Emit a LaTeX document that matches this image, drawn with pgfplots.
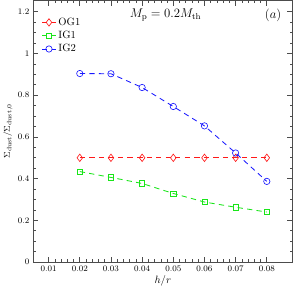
\documentclass[border=0pt]{standalone}
\usepackage{pgfplots}
\pgfplotsset{compat=1.18}
\definecolor{myred}{rgb}{1,0.1,0.1}
\definecolor{mygreen}{rgb}{0.1,0.9,0.1}
\definecolor{myblue}{rgb}{0.1,0.1,1}
\begin{document}
\begin{tikzpicture}
\begin{axis}[
  scale only axis, width=245pt, height=247pt,
  xmin=0.005, xmax=0.0883, ymin=0, ymax=1.255,
  scaled x ticks=false, scaled y ticks=false,
  xtick={0.01,0.02,0.03,0.04,0.05,0.06,0.07,0.08},
  xticklabels={0.01,0.02,0.03,0.04,0.05,0.06,0.07,0.08},
  ytick={0,0.2,0.4,0.6,0.8,1,1.2},
  yticklabels={0,0.2,0.4,0.6,0.8,1,1.2},
  minor x tick num=4, minor y tick num=3,
  tick align=inside, tick pos=both,
  major tick length=5pt, minor tick length=3pt,
  every tick/.style={black!70, semithick},
  axis line style={black!70, semithick},
  tick label style={font=\footnotesize},
  xlabel={$h/r$}, ylabel={$\Sigma_{\rm dust}/\Sigma_{\rm dust,0}$},
  xlabel style={font=\normalsize, yshift=3pt},
  ylabel style={font=\footnotesize, yshift=-2pt},
  legend style={draw=none, fill=none, at={(0.02,0.95)}, anchor=north west, font=\normalsize, row sep=0pt},
  legend cell align=left,
  legend image code/.code={\draw[mark repeat=2,mark phase=2] plot coordinates {(0cm,0cm) (0.23cm,0cm) (0.46cm,0cm)};},
]
\addplot[myred, thick, dash pattern=on 5pt off 4pt, mark=diamond, mark size=3.5pt, mark options={solid, semithick}] coordinates {
(0.02,0.5)(0.03,0.5)(0.04,0.5)(0.05,0.5)(0.06,0.5)(0.07,0.5)(0.08,0.5)};
\addlegendentry{OG1}
\addplot[mygreen, thick, dash pattern=on 5pt off 4pt, mark=square, mark size=2.5pt, mark options={solid, semithick}] coordinates {
(0.02,0.434)(0.03,0.406)(0.04,0.377)(0.05,0.329)(0.06,0.288)(0.07,0.263)(0.08,0.240)};
\addlegendentry{IG1}
\addplot[myblue, thick, dash pattern=on 5pt off 4pt, mark=o, mark size=3pt, mark options={solid, semithick}] coordinates {
(0.02,0.904)(0.03,0.903)(0.04,0.837)(0.05,0.746)(0.06,0.653)(0.07,0.523)(0.08,0.387)};
\addlegendentry{IG2}
\node[anchor=center, font=\large] at (axis cs:0.0475,1.185) {$M_{\rm p}=0.2M_{\rm th}$};
\node[anchor=center, font=\large] at (axis cs:0.082,1.185) {$(a)$};
\end{axis}
\end{tikzpicture}
\end{document}
